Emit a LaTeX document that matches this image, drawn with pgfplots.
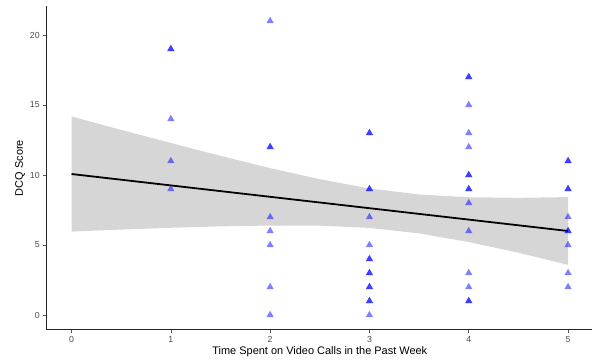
\documentclass[border=0pt]{standalone}
\usepackage{fontspec}
\setmainfont{Liberation Sans}
\usepackage{pgfplots}
\pgfplotsset{compat=1.18}
\begin{document}
\begin{tikzpicture}
\begin{axis}[
  scale only axis,
  width=546.2bp, height=323.4bp,
  xmin=-0.25, xmax=5.25, ymin=-1.05, ymax=22.05,
  axis x line*=bottom, axis y line*=left,
  axis line style={black!85, line width=0.9pt},
  xtick={0,1,2,3,4,5}, ytick={0,5,10,15,20},
  tick align=outside,
  major tick length=3.5bp,
  tick style={black!65, line width=0.6pt},
  ticklabel style={font=\fontsize{8.8}{10}\selectfont, text=black!70},
  /pgf/number format/assume math mode=true,
  xlabel={Time Spent on Video Calls in the Past Week},
  ylabel={DCQ Score},
  label style={font=\fontsize{11}{13}\selectfont},
  xlabel style={at={(axis description cs:0.5,0)}, anchor=center, yshift=-22bp},
  ylabel style={at={(axis description cs:0,0.5)}, anchor=center, yshift=26.7bp},
]
\coordinate (sw) at (rel axis cs:0,0);
\coordinate (ne) at (rel axis cs:1,1);
\addplot[only marks, mark=triangle*, mark size=4.2bp, color=blue,
  mark options={solid, fill=blue, draw opacity=0, fill opacity=0.5}] coordinates {
(1,19)(1,19)(1,14)(1,11)(1,9)
(2,21)(2,12)(2,12)(2,7)(2,6)(2,5)(2,2)(2,0)
(3,13)(3,13)(3,9)(3,9)(3,7)(3,5)(3,4)(3,4)(3,3)(3,3)(3,2)(3,2)(3,1)(3,1)(3,0)
(4,17)(4,17)(4,15)(4,13)(4,12)(4,10)(4,10)(4,9)(4,9)(4,8)(4,6)(4,3)(4,2)(4,1)(4,1)
(5,11)(5,11)(5,9)(5,9)(5,7)(5,6)(5,6)(5,5)(5,3)(5,2)
};
\addplot[draw=none, fill=black!40, fill opacity=0.4] coordinates {
(0,14.18)(0.5,13.22)(1,12.29)(1.5,11.37)(2,10.49)(2.5,9.70)(3,9.04)(3.5,8.61)(4,8.41)(4.5,8.37)(5,8.42)
(5,3.58)(4.5,4.45)(4,5.21)(3.5,5.83)(3,6.22)(2.5,6.38)(2,6.39)(1.5,6.33)(1,6.23)(0.5,6.10)(0,5.96)
} -- cycle;
\addplot[black, line width=1.8pt] coordinates {(0,10.07)(5,6.0)};
\end{axis}
\pgfresetboundingbox
\path ([shift={(-46.7bp,-33.3bp)}]sw) rectangle ([shift={(-0.9bp,6.3bp)}]ne);
\end{tikzpicture}
\end{document}
